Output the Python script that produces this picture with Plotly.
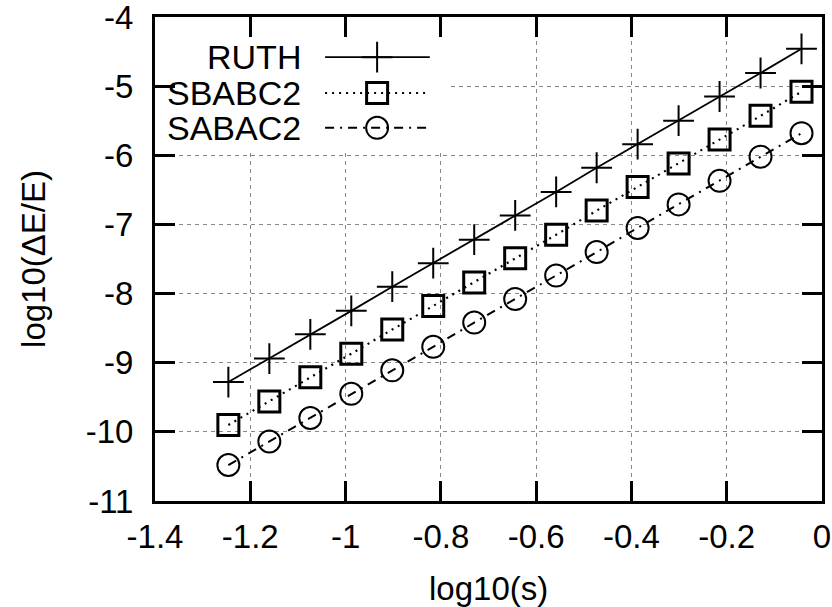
import plotly.graph_objects as go

log_s = [-1.246, -1.160, -1.074, -0.988, -0.902, -0.816, -0.730, -0.644,
         -0.558, -0.473, -0.387, -0.301, -0.215, -0.129, -0.043]
ruth = [-9.28, -8.94, -8.59, -8.25, -7.90, -7.56, -7.22, -6.87,
        -6.53, -6.18, -5.84, -5.50, -5.15, -4.81, -4.46]
sbabc2 = [-9.90, -9.56, -9.21, -8.87, -8.52, -8.18, -7.84, -7.49,
          -7.15, -6.80, -6.46, -6.12, -5.77, -5.43, -5.08]
sabac2 = [-10.48, -10.14, -9.80, -9.45, -9.11, -8.77, -8.42, -8.08,
          -7.74, -7.40, -7.05, -6.71, -6.37, -6.02, -5.68]

series_names = ["RUTH", "SBABC2", "SABAC2"]
x_ticks = [-1.4, -1.2, -1.0, -0.8, -0.6, -0.4, -0.2, 0.0]
x_tick_text = ["-1.4", "-1.2", "-1", "-0.8", "-0.6", "-0.4", "-0.2", "0"]
y_ticks = [-11, -10, -9, -8, -7, -6, -5, -4]
y_tick_text = ["-11", "-10", "-9", "-8", "-7", "-6", "-5", "-4"]

FONT = "Liberation Sans, Arial, Helvetica, sans-serif"
FS = 33

styles = [
    dict(line=dict(color="black", width=1.8, dash="solid"),
         marker=dict(symbol="cross-thin-open", size=22, color="black",
                     line=dict(color="black", width=2))),
    dict(line=dict(color="black", width=2.2, dash="2px,5px"),
         marker=dict(symbol="square-open", size=21, color="black",
                     line=dict(color="black", width=3))),
    dict(line=dict(color="black", width=2, dash="9px,6px,2px,6px"),
         marker=dict(symbol="circle-open", size=22, color="black",
                     line=dict(color="black", width=2))),
]

fig = go.Figure()
for name, ys, st in zip(series_names, [ruth, sbabc2, sabac2], styles):
    fig.add_trace(go.Scatter(x=log_s, y=ys, mode="lines+markers", name=name,
                             line=st["line"], marker=st["marker"],
                             showlegend=False))

# white legend background (covers gridlines), drawn as a filled trace
fig.add_trace(go.Scatter(x=[0, 0.442, 0.442, 0, 0], y=[0.722, 0.722, 1, 1, 0.722],
                         mode="lines", fill="toself", fillcolor="white",
                         line=dict(width=0, color="white"),
                         xaxis="x2", yaxis="y2", showlegend=False, hoverinfo="skip"))

# custom legend (text, then sample) on overlay axes
leg_rows = [0.917, 0.843, 0.771]
for name, yr, st in zip(series_names, leg_rows, styles):
    fig.add_trace(go.Scatter(x=[0.255, 0.412], y=[yr, yr], mode="lines",
                             line=st["line"], xaxis="x2", yaxis="y2",
                             showlegend=False, hoverinfo="skip"))
    fig.add_trace(go.Scatter(x=[0.333], y=[yr], mode="markers",
                             marker=st["marker"], xaxis="x2", yaxis="y2",
                             showlegend=False, hoverinfo="skip"))
    fig.add_annotation(x=0.222, y=yr, xref="x2", yref="y2", text=name,
                       showarrow=False, xanchor="right", yanchor="middle",
                       font=dict(family=FONT, size=34, color="black"))

# axis titles
fig.add_annotation(x=-0.183, y=0.5, xref="paper", yref="paper", text="log10(ΔE/E)",
                   textangle=-90, showarrow=False, xanchor="center", yanchor="middle",
                   font=dict(family=FONT, size=FS, color="black"))
fig.add_annotation(x=0.5, y=-0.18, xref="paper", yref="paper", text="log10(s)",
                   showarrow=False, xanchor="center", yanchor="middle",
                   font=dict(family=FONT, size=FS, color="black"))

axis_common = dict(
    showline=True, linecolor="black", linewidth=3, mirror="allticks",
    ticks="inside", ticklen=20, tickwidth=3, tickcolor="black",
    showgrid=True, gridcolor="#888888", griddash="4px,4px", gridwidth=1,
    zeroline=False, ticklabeloverflow="allow", automargin=False,
    tickfont=dict(family=FONT, size=FS, color="black"),
)

fig.update_layout(
    width=832, height=607,
    margin=dict(l=155, r=10, t=17, b=106, autoexpand=False),
    plot_bgcolor="white", paper_bgcolor="white",
    xaxis=dict(range=[-1.4, 0], tickvals=x_ticks, ticktext=x_tick_text,
               ticklabelstandoff=4, **axis_common),
    yaxis=dict(range=[-11, -4], tickvals=y_ticks, ticktext=y_tick_text,
               ticklabelstandoff=12, **axis_common),
    xaxis2=dict(range=[0, 1], overlaying="x", visible=False, fixedrange=True),
    yaxis2=dict(range=[0, 1], overlaying="y", visible=False, fixedrange=True),
)

fig.write_html("out.html", config={"displayModeBar": False},
               post_script="document.body.style.margin='0';document.body.style.overflow='hidden';")
